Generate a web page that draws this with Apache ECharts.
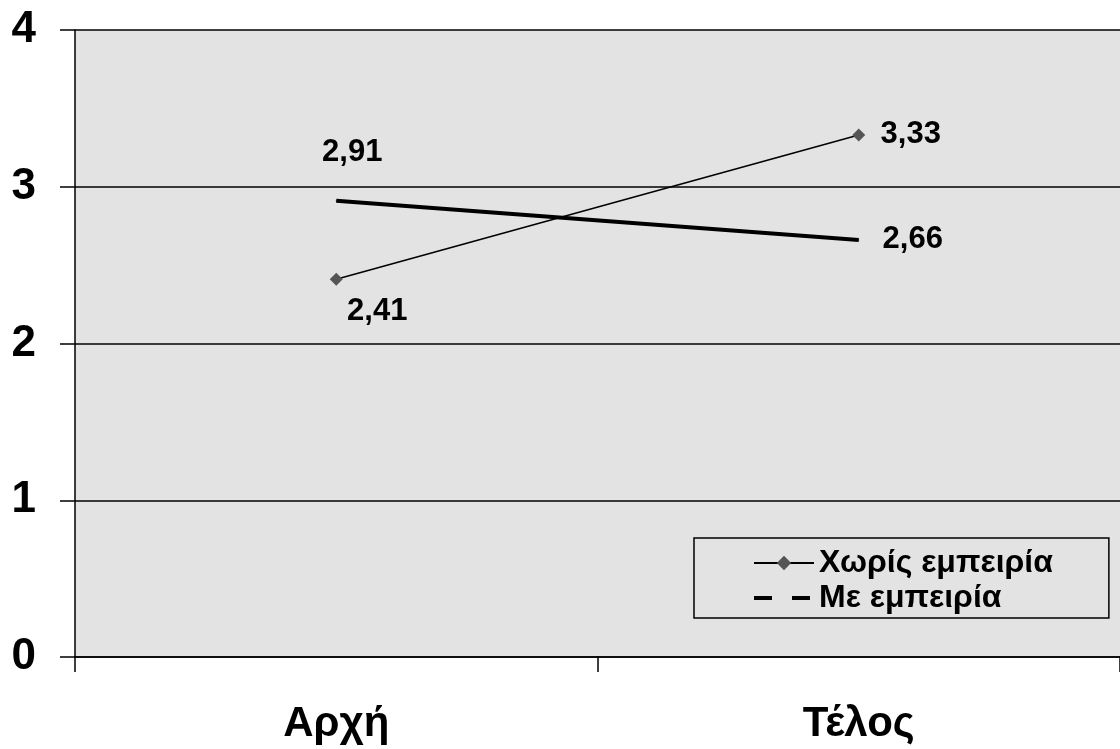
<!DOCTYPE html>
<html>
<head>
<meta charset="utf-8">
<script src="https://cdn.jsdelivr.net/npm/echarts@6/dist/echarts.min.js"></script>
<style>
html,body{margin:0;padding:0;background:#fff;}
#chart{width:1120px;height:749px;}
</style>
</head>
<body>
<div id="chart"></div>
<script>
// ---- data ----
const categories = ['Αρχή', 'Τέλος'];
const seriesNames = ['Χωρίς εμπειρία', 'Με εμπειρία'];
const withoutExperience = [2.41, 3.33];
const withExperience = [2.91, 2.66];
const yMin = 0, yMax = 4, yStep = 1;

// ---- styling / layout ----
const FONT = "'Liberation Sans', Arial, sans-serif";
const labelOffsetsWithout = [[41, 32], [52, -1]];
const labelOffsetsWith = [[16, -48], [54, -1]];
const fmt = v => v.toFixed(2).replace('.', ',');

function build(values, offsets) {
  return values.map((v, i) => ({
    value: v,
    label: { offset: offsets[i] }
  }));
}

const labelStyle = {
  show: true,
  position: 'inside',
  align: 'center',
  verticalAlign: 'middle',
  fontFamily: FONT,
  fontWeight: 'bold',
  fontSize: 31,
  color: '#000',
  formatter: p => fmt(p.value)
};

const chart = echarts.init(document.getElementById('chart'), null, { renderer: 'canvas' });
chart.setOption({
  animation: false,
  backgroundColor: '#ffffff',
  grid: {
    left: 75, right: 0, top: 30, bottom: 92,
    show: true, backgroundColor: '#e3e3e3', borderWidth: 0
  },
  legend: {
    orient: 'vertical',
    left: 694, top: 538,
    padding: [9, 56, 4, 58],
    borderColor: '#000', borderWidth: 1.5,
    backgroundColor: '#e3e3e3',
    itemWidth: 60, itemHeight: 18, itemGap: 3,
    textStyle: { fontFamily: FONT, fontWeight: 'bold', fontSize: 32, color: '#000', lineHeight: 28 },
    data: [
      { name: seriesNames[0] },
      { name: seriesNames[1], lineStyle: { type: [18, 20], width: 4, color: '#000' }, itemStyle: { color: 'rgba(0,0,0,0)', borderWidth: 0 } }
    ]
  },
  xAxis: {
    type: 'category',
    data: categories,
    boundaryGap: true,
    axisLine: { show: true, lineStyle: { color: '#000', width: 1.5 } },
    axisTick: { show: true, length: 15, lineStyle: { color: '#000', width: 1.5 } },
    axisLabel: { margin: 46, fontFamily: FONT, fontWeight: 'bold', fontSize: 42, color: '#000' },
    splitLine: { show: false }
  },
  yAxis: {
    type: 'value',
    min: yMin, max: yMax, interval: yStep,
    axisLine: { show: true, lineStyle: { color: '#000', width: 1.5 } },
    axisTick: { show: true, length: 15, lineStyle: { color: '#000', width: 1.5 } },
    axisLabel: { margin: 39, fontFamily: FONT, fontWeight: 'bold', fontSize: 44, color: '#000' },
    splitLine: { show: true, lineStyle: { color: '#000', width: 1.5 } }
  },
  series: [
    {
      name: seriesNames[0],
      type: 'line',
      data: build(withoutExperience, labelOffsetsWithout),
      symbol: 'diamond',
      symbolSize: 13,
      showSymbol: true,
      lineStyle: { color: '#000', width: 1.5 },
      itemStyle: { color: '#555555' },
      label: labelStyle,
      z: 3
    },
    {
      name: seriesNames[1],
      type: 'line',
      data: build(withExperience, labelOffsetsWith),
      symbol: 'circle',
      symbolSize: 1,
      showSymbol: true,
      lineStyle: { color: '#000', width: 4, cap: 'butt' },
      itemStyle: { color: '#000' },
      label: labelStyle,
      z: 2
    }
  ]
});
</script>
</body>
</html>
